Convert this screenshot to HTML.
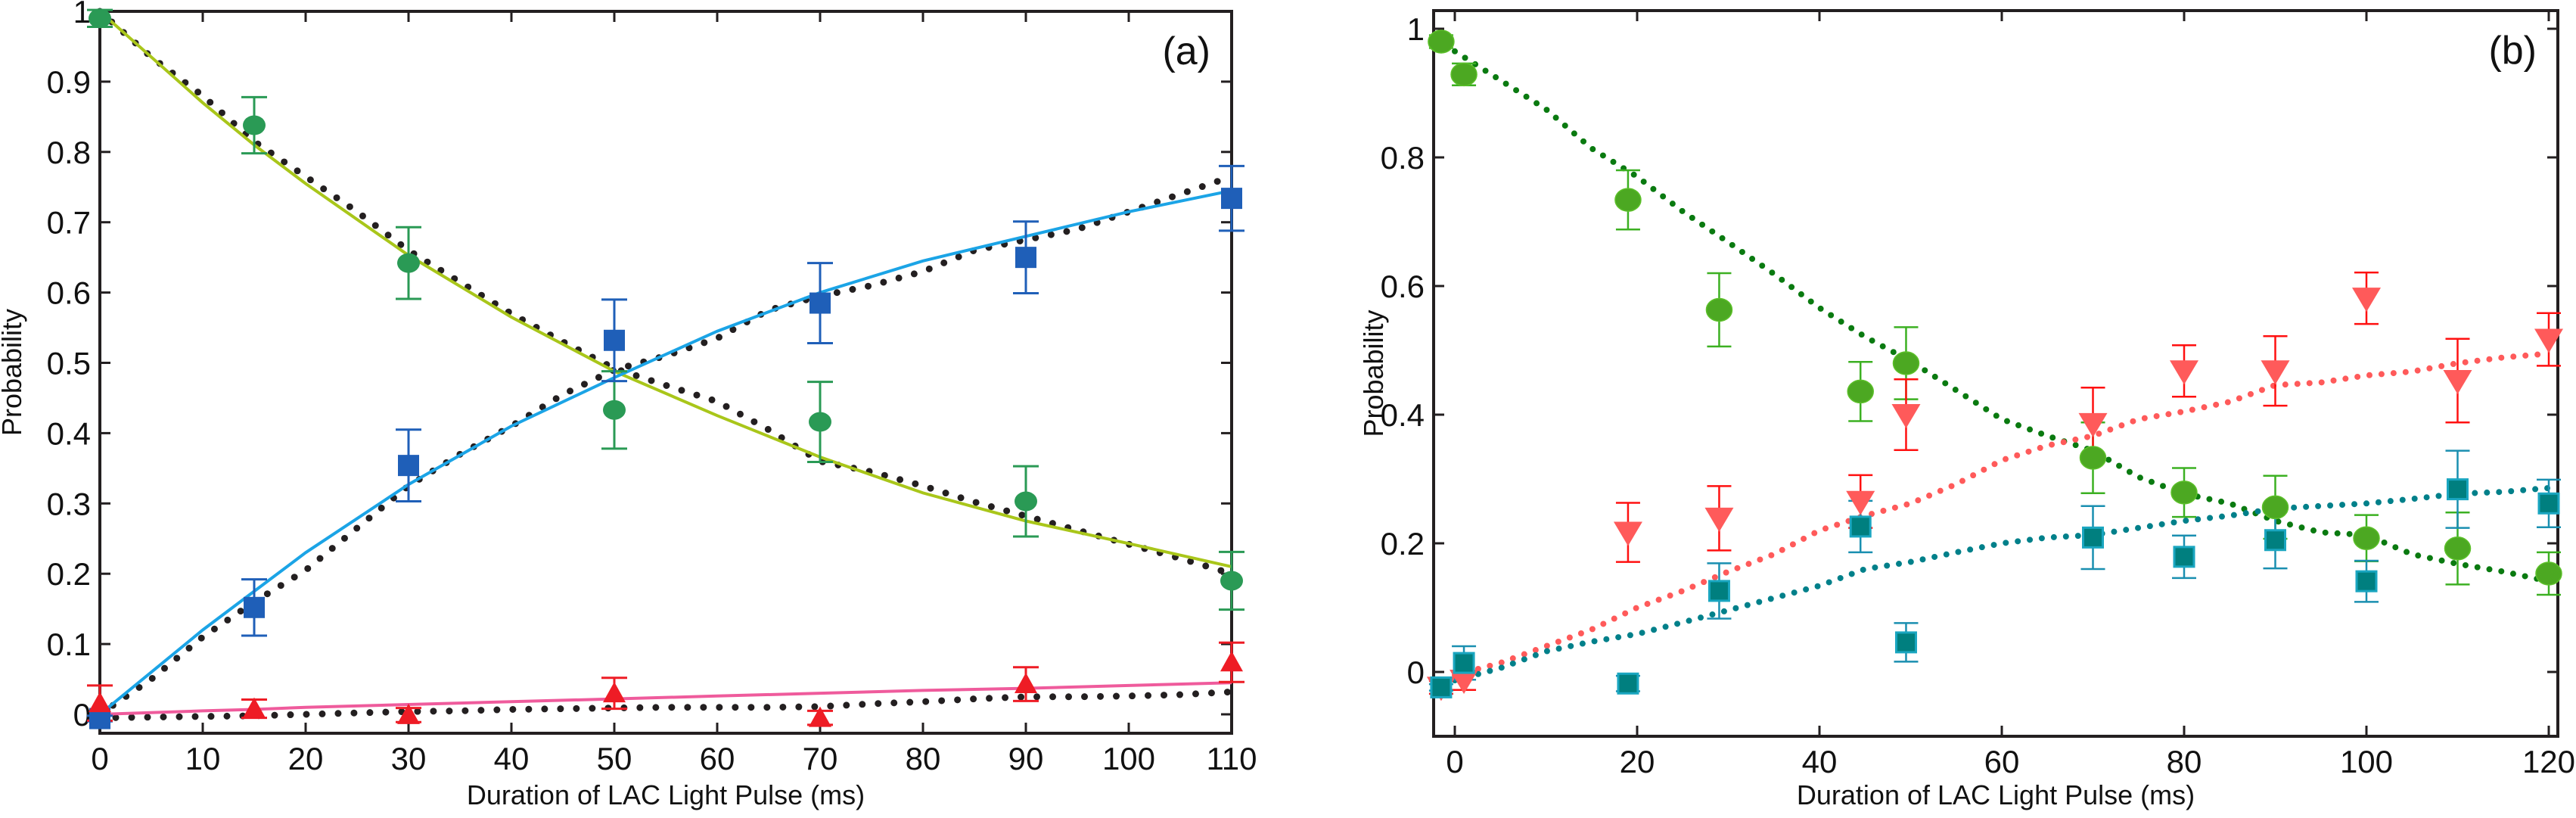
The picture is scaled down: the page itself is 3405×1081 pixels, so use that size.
<!DOCTYPE html>
<html><head><meta charset="utf-8">
<style>
html,body{margin:0;padding:0;background:#fff;}
svg{display:block;font-family:"Liberation Sans",Arial,sans-serif;}
</style></head>
<body>
<svg id="fig" width="3405" height="1081" viewBox="0 0 3405 1081" xmlns="http://www.w3.org/2000/svg">
<rect width="3405" height="1081" fill="#fff"/>
<g id="pa"></g>
<g id="pb"></g>
</svg>
<script>
// ---------- Panel (a) data ----------
const aX = [0, 15, 30, 50, 70, 90, 110];
const aGreen = [0.99, 0.838, 0.642, 0.433, 0.416, 0.303, 0.19];
const aGreenErr = [0.012, 0.04, 0.051, 0.055, 0.057, 0.05, 0.041];
const aBlue = [-0.006, 0.152, 0.354, 0.532, 0.585, 0.65, 0.734];
const aBlueErr = [0.004, 0.04, 0.051, 0.058, 0.057, 0.051, 0.046];
const aRed = [0.016, 0.008, -0.001, 0.03, -0.005, 0.043, 0.074];
const aRedErr = [0.025, 0.013, 0.01, 0.022, 0.01, 0.024, 0.028];
const aFitX = [0, 10, 15, 20, 30, 40, 50, 60, 70, 80, 90, 100, 110];
const aFitGreen = [1.0, 0.87, 0.81, 0.755, 0.653, 0.565, 0.488, 0.425, 0.366, 0.315, 0.275, 0.243, 0.21];
const aFitBlue = [0.0, 0.12, 0.175, 0.23, 0.327, 0.41, 0.479, 0.545, 0.6, 0.645, 0.68, 0.715, 0.745];
const aFitPink = [0.0, 0.005, 0.007, 0.01, 0.014, 0.018, 0.022, 0.026, 0.03, 0.034, 0.037, 0.041, 0.045];
const aSimX = [0,5,10,15,20,25,30,35,40,45,50,55,60,65,70,75,80,85,90,95,100,105,110];
const aSimUpper = [1.0,0.935,0.88,0.815,0.765,0.715,0.66,0.615,0.57,0.53,0.492,0.468,0.445,0.405,0.36,0.345,0.325,0.302,0.282,0.262,0.242,0.222,0.2];
const aSimLower = [0,0.05,0.11,0.16,0.205,0.265,0.325,0.37,0.41,0.455,0.49,0.51,0.535,0.575,0.595,0.61,0.63,0.66,0.675,0.69,0.715,0.74,0.765];
const aSimZero = [-0.005,-0.004,-0.003,-0.002,0,0.002,0.004,0.005,0.007,0.008,0.009,0.01,0.01,0.01,0.011,0.015,0.018,0.022,0.025,0.025,0.026,0.028,0.032];
const aXTicks = [0,10,20,30,40,50,60,70,80,90,100,110];
const aYTicks = [0,0.1,0.2,0.3,0.4,0.5,0.6,0.7,0.8,0.9,1];
const aYTickLabels = ["0","0.1","0.2","0.3","0.4","0.5","0.6","0.7","0.8","0.9","1"];

// ---------- Panel (b) data ----------
const bX = [-1.5, 1, 19, 29, 44.5, 49.5, 70, 80, 90, 100, 110, 120];
const bGreen = [0.98, 0.929, 0.734, 0.563, 0.436, 0.48, 0.333, 0.279, 0.256, 0.208, 0.192, 0.153];
const bGreenErr = [0.01, 0.017, 0.046, 0.057, 0.046, 0.056, 0.055, 0.038, 0.049, 0.036, 0.056, 0.033];
const bRed = [-0.024, -0.013, 0.217, 0.239, 0.265, 0.4, 0.386, 0.468, 0.468, 0.581, 0.453, 0.517];
const bRedErr = [0.01, 0.015, 0.046, 0.05, 0.041, 0.055, 0.056, 0.04, 0.054, 0.04, 0.065, 0.041];
const bTeal = [-0.024, 0.014, -0.018, 0.126, 0.226, 0.046, 0.209, 0.179, 0.205, 0.141, 0.284, 0.262];
const bTealErr = [0.005, 0.026, 0.012, 0.043, 0.04, 0.03, 0.049, 0.033, 0.044, 0.032, 0.06, 0.037];
const bSimX = [0,5,10,15,20,25,30,35,40,45,50,55,60,65,70,75,80,85,90,95,100,105,110,115,120];
const bSimGreen = [0.965,0.92,0.875,0.814,0.77,0.716,0.668,0.619,0.566,0.521,0.483,0.438,0.393,0.367,0.344,0.303,0.277,0.262,0.235,0.217,0.213,0.183,0.168,0.156,0.141];
const bSimRed = [-0.005,0.014,0.04,0.066,0.1,0.126,0.156,0.183,0.22,0.243,0.262,0.292,0.329,0.352,0.367,0.393,0.405,0.42,0.446,0.45,0.461,0.467,0.48,0.489,0.495];
const bSimTeal = [-0.013,0.006,0.032,0.047,0.059,0.077,0.096,0.115,0.134,0.16,0.171,0.186,0.2,0.209,0.213,0.224,0.235,0.243,0.254,0.258,0.262,0.269,0.277,0.28,0.286];
const bXTicks = [0,20,40,60,80,100,120];
const bYTicks = [0,0.2,0.4,0.6,0.8,1];
const bYTickLabels = ["0","0.2","0.4","0.6","0.8","1"];

const NS = "http://www.w3.org/2000/svg";
function mk(parent, tag, attrs) {
  const e = document.createElementNS(NS, tag);
  for (const k in attrs) e.setAttribute(k, attrs[k]);
  parent.appendChild(e);
  return e;
}
function linePath(xs, ys, sx, sy) {
  return xs.map((x, i) => (i ? "L" : "M") + sx(x).toFixed(1) + "," + sy(ys[i]).toFixed(1)).join(" ");
}

function drawAxes(g, box, sx, sy, xt, yt, ytl, title, tag) {
  const frame = mk(g, "rect", {x: box.l, y: box.t, width: box.r - box.l, height: box.b - box.t, fill: "none", stroke: "#231f20", "stroke-width": 4});
  
  
  xt.forEach(v => {
    const x = sx(v);
    const t1 = mk(g, "line", {x1: x, y1: box.b, x2: x, y2: box.b - 14, stroke: "#231f20", "stroke-width": 3});
    
    
    const t2 = mk(g, "line", {x1: x, y1: box.t, x2: x, y2: box.t + 14, stroke: "#231f20", "stroke-width": 3});
    
    
    const lb = mk(g, "text", {x: x, y: box.b + 48, "text-anchor": "middle", "font-size": 42, fill: "#111"});
    lb.textContent = String(v);
    
    
  });
  yt.forEach((v, i) => {
    const y = sy(v);
    const t1 = mk(g, "line", {x1: box.l, y1: y, x2: box.l + 14, y2: y, stroke: "#231f20", "stroke-width": 3});
    
    
    const t2 = mk(g, "line", {x1: box.r, y1: y, x2: box.r - 14, y2: y, stroke: "#231f20", "stroke-width": 3});
    
    
    const lb = mk(g, "text", {x: box.l - 12, y: y + 15, "text-anchor": "end", "font-size": 42, fill: "#111"});
    lb.textContent = ytl[i];
    
    
  });
  const xtitle = mk(g, "text", {x: (box.l + box.r) / 2, y: 1063, "text-anchor": "middle", "font-size": 36, fill: "#111"});
  xtitle.textContent = "Duration of LAC Light Pulse (ms)";
  
  
  const yx = box.ytx, yy = (box.t + box.b) / 2;
  const ytitle = mk(g, "text", {x: yx, y: yy, "text-anchor": "middle", "font-size": 36, fill: "#111", transform: "rotate(-90 " + yx + " " + yy + ")"});
  ytitle.textContent = "Probability";
  
  
  const pl = mk(g, "text", {x: box.r - 28, y: box.t + 70, "text-anchor": "end", "font-size": 52, fill: "#111"});
  pl.textContent = title;
  
  
}

function errBars(g, xs, ys, es, sx, sy, color, half, w, name) {
  xs.forEach((x, i) => {
    const X = sx(x), y1 = sy(ys[i] + es[i]), y2 = sy(ys[i] - es[i]);
    const eg = mk(g, "path", {d: `M${X},${y1} L${X},${y2} M${X-half},${y1} L${X+half},${y1} M${X-half},${y2} L${X+half},${y2}`, stroke: color, "stroke-width": w, fill: "none"});
    
    
  });
}

// ===== Panel (a) =====
(function () {
  const g = document.getElementById("pa");
  const box = {l: 132, r: 1628, t: 15, b: 969, ytx: 28};
  const sx = v => 132 + v * (1628 - 132) / 110;
  const sy = v => 944 - v * 929;
  drawAxes(g, box, sx, sy, aXTicks, aYTicks, aYTickLabels, "(a)", "panel-label-a");
  const dots = [[aSimUpper, "sim-upper"], [aSimLower, "sim-lower"], [aSimZero, "sim-zero"]];
  dots.forEach(([ys, nm]) => {
    const p = mk(g, "path", {d: linePath(aSimX, ys, sx, sy), fill: "none", stroke: "#231f20", "stroke-width": 9, "stroke-linecap": "round", "stroke-dasharray": "0 21"});
    
    
  });
  const fits = [[aFitGreen, "#a9c61a", "fit-green"], [aFitBlue, "#1ba4e6", "fit-blue"], [aFitPink, "#ef5b9c", "fit-pink"]];
  fits.forEach(([ys, c, nm]) => {
    const p = mk(g, "path", {d: linePath(aFitX, ys, sx, sy), fill: "none", stroke: c, "stroke-width": 4});
    
    
  });
  errBars(g, aX, aGreen, aGreenErr, sx, sy, "#2a9a55", 17, 3, "green-error-bar");
  errBars(g, aX, aBlue, aBlueErr, sx, sy, "#1f5fb8", 17, 3, "blue-error-bar");
  errBars(g, aX, aRed, aRedErr, sx, sy, "#ee1c25", 17, 3, "red-error-bar");
  aX.forEach((x, i) => {
    const c = mk(g, "ellipse", {cx: sx(x), cy: sy(aGreen[i]), rx: 15, ry: 13, fill: "#2a9a55"});
    
    
    const s = mk(g, "rect", {x: sx(x) - 14, y: sy(aBlue[i]) - 14, width: 28, height: 28, fill: "#1f5fb8"});
    
    
    const X = sx(x), Y = sy(aRed[i]);
    const t = mk(g, "polygon", {points: `${X},${Y-15} ${X-15},${Y+12} ${X+15},${Y+12}`, fill: "#ee1c25"});
    
    
  });
})();

// ===== Panel (b) =====
(function () {
  const g = document.getElementById("pb");
  const box = {l: 1895, r: 3381, t: 14, b: 973, ytx: 1828};
  const sx = v => 1923 + v * 12.05;
  const sy = v => 888 - v * 850;
  drawAxes(g, box, sx, sy, bXTicks, bYTicks, bYTickLabels, "(b)", "panel-label-b");
  const dots = [[bSimGreen, "#0a7a10", "sim-green"], [bSimRed, "#ff5a5a", "sim-red"], [bSimTeal, "#00808a", "sim-teal"]];
  dots.forEach(([ys, c, nm]) => {
    const p = mk(g, "path", {d: linePath(bSimX, ys, sx, sy), fill: "none", stroke: c, "stroke-width": 8, "stroke-linecap": "round", "stroke-dasharray": "0 16"});
    
    
  });
  errBars(g, bX, bGreen, bGreenErr, sx, sy, "#3cb022", 16, 2.5, "green-error-bar");
  errBars(g, bX, bRed, bRedErr, sx, sy, "#ff1010", 16, 2.5, "red-error-bar");
  errBars(g, bX, bTeal, bTealErr, sx, sy, "#1a8fb0", 16, 2.5, "teal-error-bar");
  bX.forEach((x, i) => {
    const c = mk(g, "ellipse", {cx: sx(x), cy: sy(bGreen[i]), rx: 17, ry: 15, fill: "#4ca822", stroke: "#5cc02a", "stroke-width": 1.5});
    
    
    const X = sx(x), Y = sy(bRed[i]);
    const t = mk(g, "polygon", {points: `${X-19},${Y-14} ${X+19},${Y-14} ${X},${Y+18}`, fill: "#ff5a5a"});
    
    
    const s = mk(g, "rect", {x: sx(x) - 13, y: sy(bTeal[i]) - 13, width: 26, height: 26, fill: "#007f7f", stroke: "#1aa6c0", "stroke-width": 3});
    
    
  });
})();
</script>
</body></html>
